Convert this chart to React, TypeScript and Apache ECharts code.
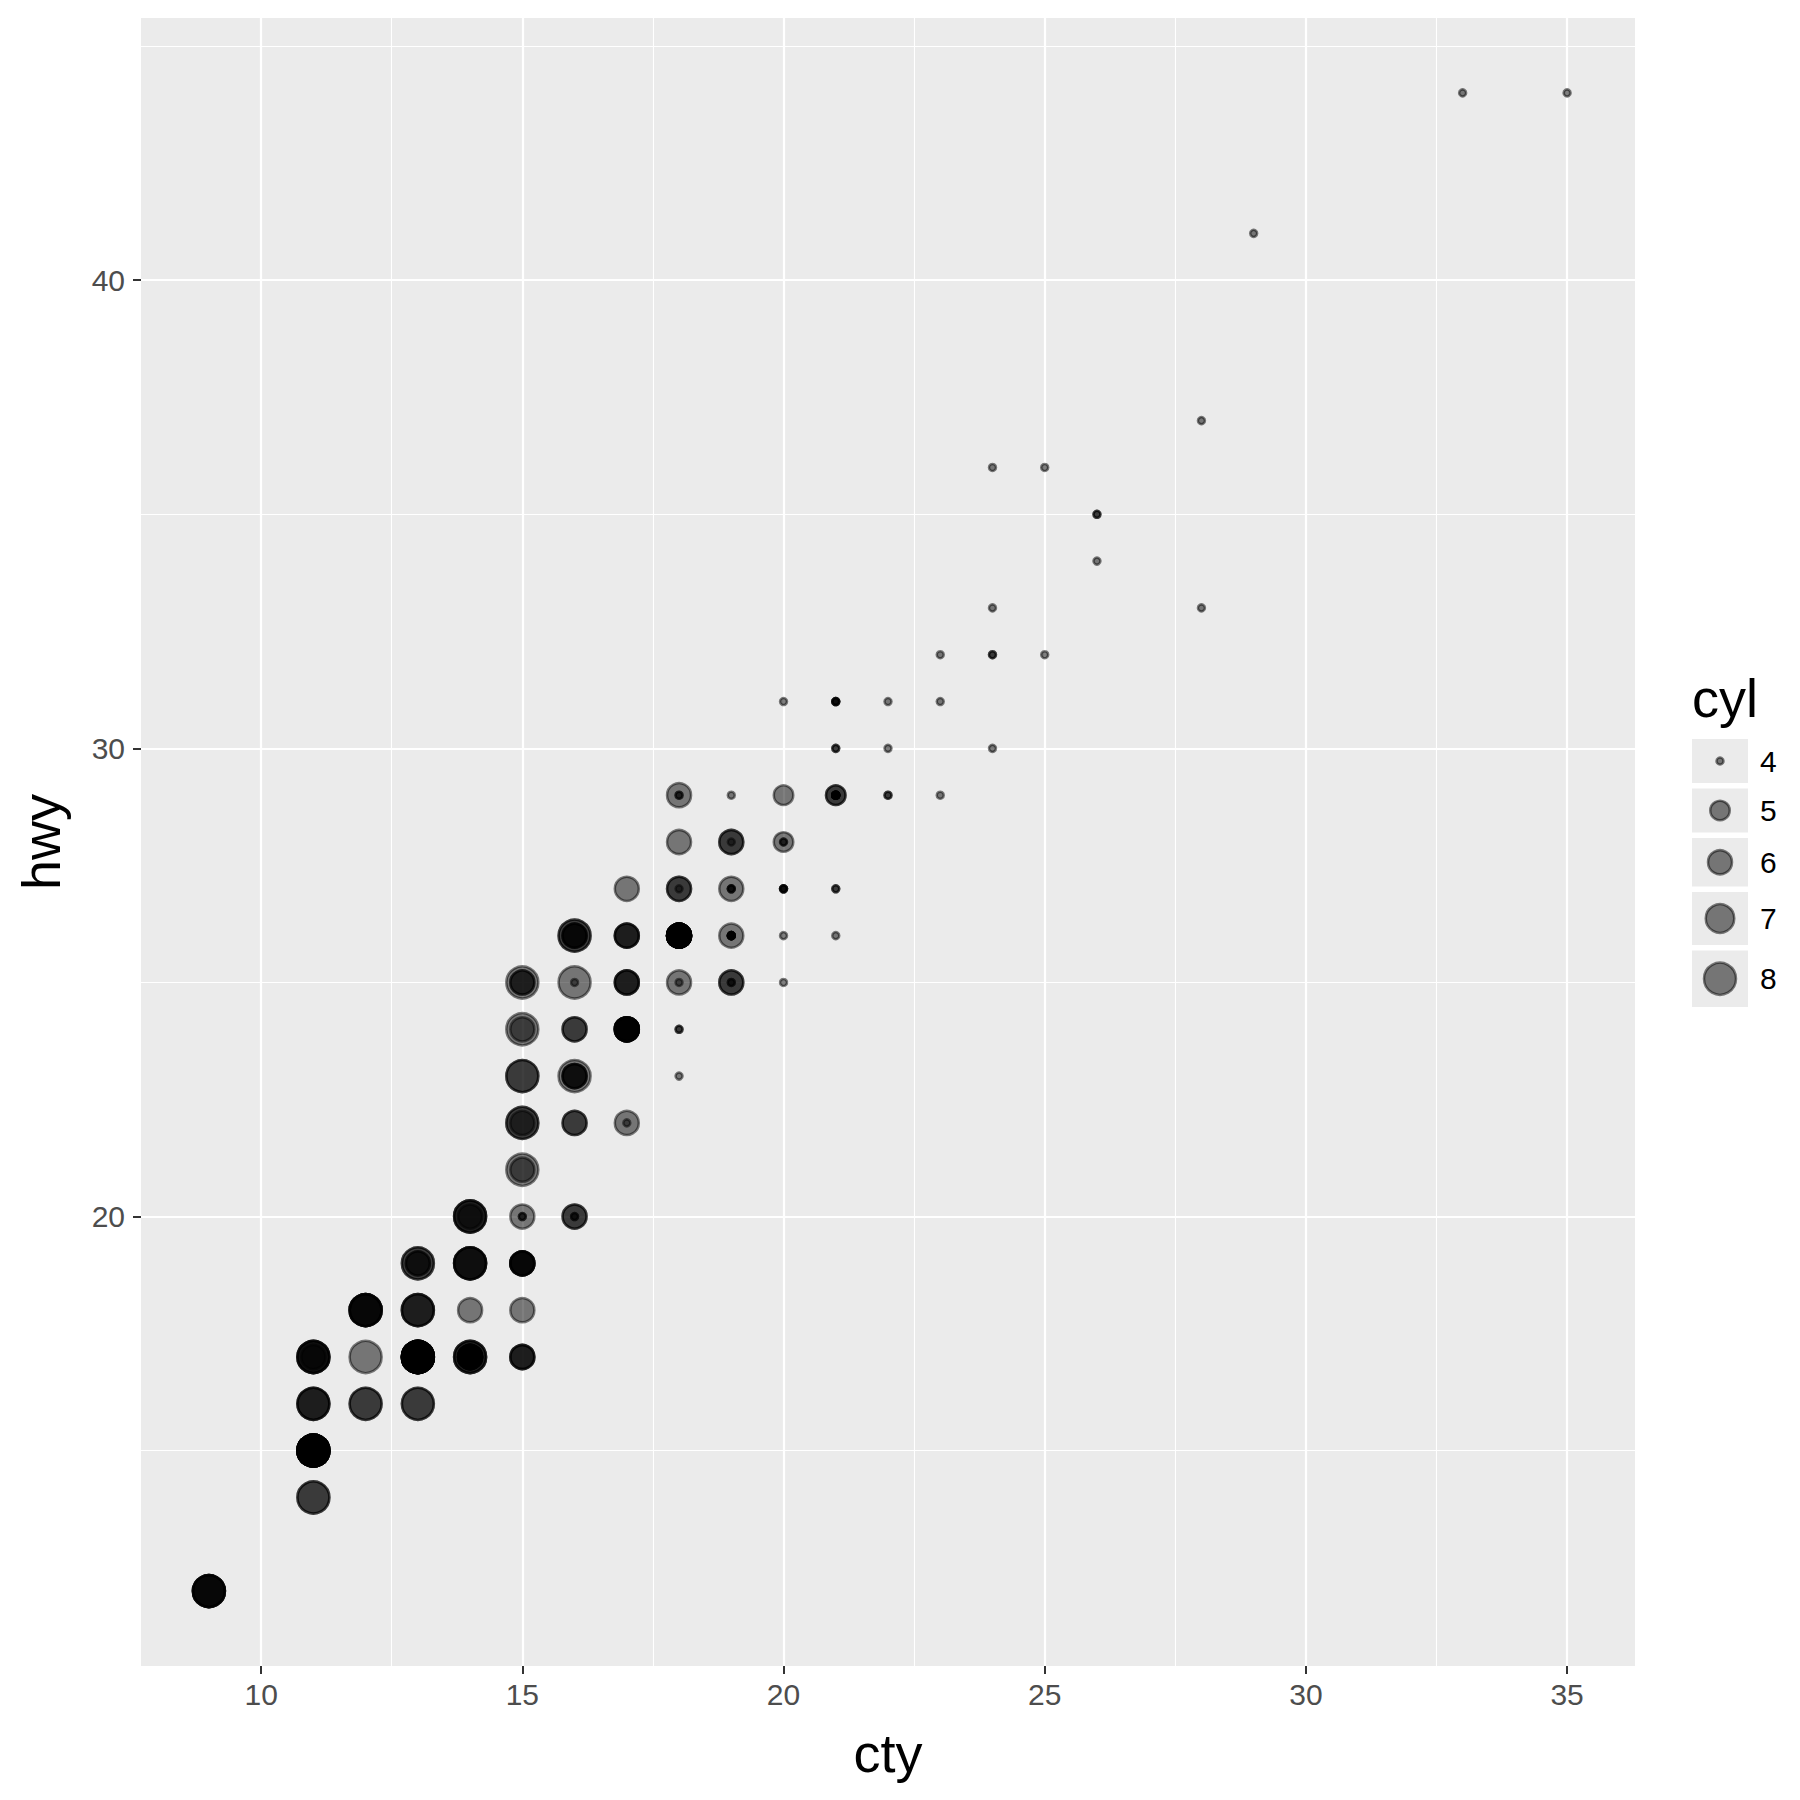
import React, { useEffect, useRef } from "react";
import * as echarts from "echarts";

// ---- data (mpg: cty vs hwy, size = cyl) ----
// each entry: [cty, hwy, number of cars at that spot]
const cyl4Points = [
  [18, 29, 2], [21, 29, 12], [20, 31, 1], [21, 30, 2], [18, 26, 2], [16, 25, 1],
  [20, 28, 2], [19, 27, 3], [22, 30, 1], [18, 24, 2], [28, 33, 1], [24, 32, 2],
  [25, 32, 1], [23, 29, 1], [26, 34, 1], [25, 36, 1], [24, 36, 1], [18, 27, 1],
  [21, 31, 4], [19, 26, 7], [19, 29, 1], [20, 27, 4], [23, 31, 1], [23, 32, 1],
  [18, 25, 1], [19, 25, 2], [20, 26, 1], [18, 23, 1], [21, 26, 1], [20, 25, 1],
  [15, 20, 2], [16, 20, 2], [21, 27, 2], [22, 31, 1], [24, 30, 1], [24, 33, 1],
  [26, 35, 2], [28, 37, 1], [17, 22, 1], [22, 29, 2], [33, 44, 1], [35, 44, 1],
  [29, 41, 1], [19, 28, 1],
];
const cyl5Points = [[21, 29, 2], [20, 28, 1], [20, 29, 1]];
const cyl6Points = [
  [16, 26, 3], [18, 26, 12], [18, 27, 2], [15, 25, 2], [17, 25, 3], [15, 24, 1],
  [18, 29, 1], [17, 26, 3], [17, 24, 7], [16, 22, 2], [11, 17, 1], [15, 22, 1],
  [15, 21, 1], [16, 23, 3], [15, 19, 5], [14, 18, 1], [13, 17, 2], [14, 17, 7],
  [13, 19, 2], [18, 25, 1], [16, 24, 2], [19, 28, 2], [17, 22, 1], [15, 20, 1],
  [19, 27, 1], [19, 26, 1], [19, 25, 2], [15, 17, 3], [14, 20, 1], [17, 27, 1],
  [18, 28, 1], [16, 20, 2], [15, 18, 1],
];
const cyl7Points: number[][] = [];
const cyl8Points = [
  [16, 23, 1], [14, 20, 3], [11, 15, 10], [13, 17, 10], [12, 17, 1], [16, 26, 2],
  [15, 23, 2], [15, 25, 1], [15, 24, 1], [14, 19, 4], [11, 14, 2], [14, 17, 3],
  [9, 12, 5], [11, 17, 4], [11, 16, 3], [13, 18, 3], [12, 16, 2], [12, 18, 5],
  [13, 16, 2], [13, 19, 2], [15, 21, 1], [15, 22, 2], [16, 25, 1],
];
const cylLevels = [4, 5, 6, 7, 8];
const pointsByCyl: Record<number, number[][]> = {
  4: cyl4Points, 5: cyl5Points, 6: cyl6Points, 7: cyl7Points, 8: cyl8Points,
};

const xTicks = [10, 15, 20, 25, 30, 35];
const xMinor = [12.5, 17.5, 22.5, 27.5, 32.5];
const yTicks = [20, 30, 40];
const yMinor = [15, 25, 35, 45];

// ---- styling ----
const FONT = '"Liberation Sans", Arial, Helvetica, sans-serif';
const BORDER = 2.5;
const outerDiameter: Record<number, number> = { 4: 9.5, 5: 22, 6: 26.5, 7: 31, 8: 34.5 };
const POINT_FILL = "rgba(0,0,0,0.5)";

const GRID = { left: 141, top: 18, width: 1494, height: 1648 };

function paddedRange(vals: number[]): [number, number] {
  const lo = Math.min(...vals);
  const hi = Math.max(...vals);
  const pad = (hi - lo) * 0.05;
  return [lo - pad, hi + pad];
}

function expand(points: number[][]): number[][] {
  const out: number[][] = [];
  points.forEach(([x, y, n]) => {
    for (let i = 0; i < n; i++) out.push([x, y]);
  });
  return out;
}

export default function App() {
  const ref = useRef<HTMLDivElement>(null);

  useEffect(() => {
    if (!ref.current) return;
    const chart = echarts.init(ref.current, undefined, { renderer: "svg" });

    const all = cylLevels.flatMap((c) => pointsByCyl[c]);
    const [xMin, xMax] = paddedRange(all.map((p) => p[0]));
    const [yMin, yMax] = paddedRange(all.map((p) => p[1]));

    const pointSeries = cylLevels
      .filter((c) => pointsByCyl[c].length > 0)
      .map((c) => ({
        type: "scatter",
        name: String(c),
        data: expand(pointsByCyl[c]),
        symbol: "circle",
        symbolSize: outerDiameter[c] - BORDER,
        itemStyle: {
          color: POINT_FILL,
          borderColor: POINT_FILL,
          borderWidth: BORDER,
          opacity: 1,
        },
        silent: true,
        emphasis: { disabled: true },
        z: 3,
      }));

    const majorStyle = { color: "#FFFFFF", width: 2.2, type: "solid" };
    const minorStyle = { color: "#FFFFFF", width: 1.1, type: "solid" };

    const gridSeries = {
      type: "scatter",
      name: "gridlines",
      data: [],
      silent: true,
      z: 1,
      markLine: {
        silent: true,
        z: 1,
        symbol: ["none", "none"],
        label: { show: false },
        emphasis: { disabled: true },
        animation: false,
        lineStyle: majorStyle,
        data: [
          ...xMinor.map((v) => ({ xAxis: v, lineStyle: minorStyle })),
          ...yMinor.map((v) => ({ yAxis: v, lineStyle: minorStyle })),
          ...xTicks.map((v) => ({ xAxis: v, lineStyle: majorStyle })),
          ...yTicks.map((v) => ({ yAxis: v, lineStyle: majorStyle })),
        ],
      },
    };

    // legend built from the same size mapping
    const legendEls: any[] = [];
    legendEls.push({
      type: "text",
      x: 1692,
      y: 698,
      style: {
        text: "cyl",
        fontSize: 54,
        fontFamily: FONT,
        fill: "#000000",
        align: "left",
        verticalAlign: "middle",
      },
    });
    let keyTop = 739;
    cylLevels.forEach((c) => {
      const d = outerDiameter[c];
      const h = Math.max(44, d + 22);
      const cy = keyTop + h / 2;
      legendEls.push({
        type: "rect",
        shape: { x: 1692, y: keyTop, width: 56, height: h },
        style: { fill: "#EBEBEB" },
      });
      legendEls.push({
        type: "circle",
        shape: { cx: 1720, cy, r: (d - BORDER) / 2 },
        style: { fill: POINT_FILL, stroke: POINT_FILL, lineWidth: BORDER },
      });
      legendEls.push({
        type: "text",
        x: 1760,
        y: cy,
        style: {
          text: String(c),
          fontSize: 30,
          fontFamily: FONT,
          fill: "#000000",
          align: "left",
          verticalAlign: "middle",
        },
      });
      keyTop += h + 5.5;
    });

    chart.setOption({
      animation: false,
      backgroundColor: "#FFFFFF",
      textStyle: { fontFamily: FONT },
      grid: {
        ...GRID,
        show: true,
        backgroundColor: "#EBEBEB",
        borderWidth: 0,
        containLabel: false,
        outerBoundsMode: "none",
      },
      xAxis: {
        type: "value",
        min: xMin,
        max: xMax,
        axisLine: { show: false },
        axisTick: {
          show: true,
          length: 8,
          customValues: xTicks,
          lineStyle: { color: "#333333", width: 2 },
        },
        axisLabel: {
          customValues: xTicks,
          margin: 13,
          color: "#4D4D4D",
          fontSize: 30,
          fontFamily: FONT,
        },
        splitLine: { show: false },
        name: "cty",
        nameLocation: "middle",
        nameGap: 60,
        nameTextStyle: { fontSize: 54, color: "#000000", fontFamily: FONT },
      },
      yAxis: {
        type: "value",
        min: yMin,
        max: yMax,
        axisLine: { show: false },
        axisTick: {
          show: true,
          length: 8,
          customValues: yTicks,
          lineStyle: { color: "#333333", width: 2 },
        },
        axisLabel: {
          customValues: yTicks,
          margin: 16,
          color: "#4D4D4D",
          fontSize: 30,
          fontFamily: FONT,
        },
        splitLine: { show: false },
        name: "hwy",
        nameLocation: "middle",
        nameRotate: 90,
        nameGap: 73,
        nameTextStyle: { fontSize: 54, color: "#000000", fontFamily: FONT },
      },
      graphic: { elements: legendEls },
      series: [gridSeries, ...pointSeries],
    });

    return () => chart.dispose();
  }, []);

  return (
    <div
      ref={ref}
      style={{ position: "absolute", left: 0, top: 0, width: 1800, height: 1800, background: "#fff" }}
    />
  );
}
